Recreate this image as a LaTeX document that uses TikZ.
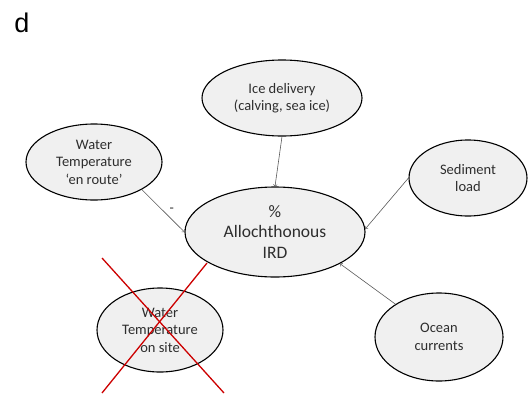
\documentclass[tikz,border=0pt]{standalone}
\usepackage{fontspec}
\setmainfont{Carlito}
\newfontfamily\panelfont{Liberation Sans}
\usepackage{tikz}
\usetikzlibrary{shapes}
\definecolor{bubblefill}{HTML}{F0F0F0}
\definecolor{bubbletext}{HTML}{2E2E2E}
\tikzset{bubble/.style n args={2}{
    ellipse, draw=black, line width=1.1pt, fill=bubblefill,
    text=bubbletext, align=center, inner sep=0pt,
    minimum width=#1, minimum height=#2,
    font=\fontsize{14.5}{17.5}\selectfont
  },
  link/.style={->, draw=black!65, line width=0.6pt}
}

\begin{document}
\begin{tikzpicture}[x=1pt, y=-1pt]
      \useasboundingbox (0,0) rectangle (528,394);
      \node[font=\panelfont\fontsize{27}{30}\selectfont] (panel) at (22,23) {d};
      \node[bubble={160pt}{76pt}] (ice) at (282,98) {Ice delivery\\(calving, sea ice)};
      \node[bubble={136pt}{76pt}] (enroute) at (94,162) {Water\\Temperature\\`en route'};
      \node[bubble={118pt}{76pt}] (sediment) at (468,178) {Sediment\\load};
      \node[bubble={180pt}{90pt}, font=\fontsize{17.5}{20.5}\selectfont] (ird) at (275,232) {\%\\Allochthonous\\IRD};
      \node[bubble={126pt}{84pt}] (onsite) at (160,330) {Water\\Temperature\\on site};
      \node[bubble={128pt}{88pt}] (ocean) at (439,337) {Ocean\\currents};
      \draw[link] (ice.south) -- (ird.north);
      \draw[link] (enroute.-30) -- (ird.west) node[pos=0.6, above right, inner sep=2pt, text=bubbletext, font=\fontsize{14}{14}\selectfont]{-};
      \draw[link] (sediment.west) -- (ird.2);
      \draw[link] (ocean.143) -- (ird.-26);
      % crossed out
      \draw[red!80!black, line width=1.3pt] (102,258) -- (224,393);
      \draw[red!80!black, line width=1.3pt] (207,263) -- (102,393);
    \end{tikzpicture}
\end{document}
